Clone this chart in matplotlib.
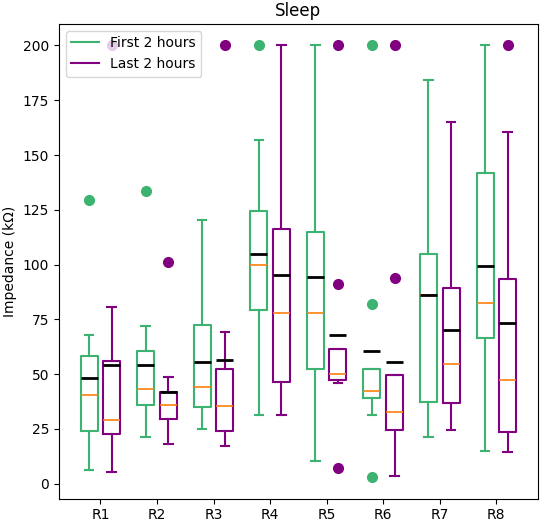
import matplotlib
matplotlib.use("Agg")
import matplotlib.pyplot as plt
from matplotlib.lines import Line2D
import numpy as np

# channels
labels = ["R1", "R2", "R3", "R4", "R5", "R6", "R7", "R8"]

# First 2 hours
first_q1 = [24.0, 35.8, 34.9, 79.3, 52.4, 38.9, 37.5, 66.4]
first_med = [40.7, 43.3, 44.2, 99.9, 77.8, 42.1, 86.0, 82.3]
first_q3 = [58.5, 60.4, 72.6, 124.5, 114.9, 52.4, 104.6, 141.7]
first_lo = [6.4, 21.4, 25.1, 31.3, 10.2, 31.3, 21.5, 14.9]
first_hi = [68.0, 72.1, 120.4, 157.0, 200.0, 52.4, 184.1, 200.0]
first_mean = [48.3, 54.4, 55.6, 104.8, 94.3, 60.4, 86.0, 99.3]
first_fliers = [[129.5], [133.8], [], [200.0], [], [200.0, 82.0, 3.0], [], []]

# Last 2 hours
last_q1 = [22.6, 29.5, 24.0, 46.6, 47.2, 24.4, 37.0, 23.5]
last_med = [29.3, 35.7, 35.4, 78.0, 50.1, 32.6, 54.7, 47.5]
last_q3 = [56.2, 41.8, 52.4, 116.3, 61.4, 49.7, 89.3, 93.4]
last_lo = [5.5, 17.9, 17.0, 31.3, 45.9, 3.5, 24.6, 14.4]
last_hi = [80.8, 48.6, 69.4, 200.0, 61.4, 49.7, 165.2, 160.5]
last_mean = [54.1, 41.9, 56.3, 95.4, 67.7, 55.6, 70.3, 73.5]
last_fliers = [[200.0], [101.1], [200.0], [], [200.0, 91.0, 7.4], [200.0, 93.8], [], [200.0]]

green = "mediumseagreen"
purple = "purple"


def make_stats(q1, med, q3, lo, hi, mean, fliers):
    stats = []
    for i in range(len(q1)):
        stats.append(dict(q1=q1[i], med=med[i], q3=q3[i], whislo=lo[i],
                          whishi=hi[i], mean=mean[i], fliers=fliers[i]))
    return stats


def draw(ax, stats, pos, color):
    ax.bxp(stats, positions=pos, widths=0.3, showmeans=True, meanline=True,
           manage_ticks=False,
           boxprops=dict(color=color, linewidth=1.5),
           whiskerprops=dict(color=color, linewidth=1.5),
           capprops=dict(color=color, linewidth=1.5),
           medianprops=dict(color="C1", linewidth=1.2),
           meanprops=dict(color="black", linewidth=2, linestyle="-"),
           flierprops=dict(marker="o", markerfacecolor=color,
                           markeredgecolor=color, markersize=7))


fig, ax = plt.subplots(figsize=(5.5, 5.3), dpi=100)
x = np.arange(1, len(labels) + 1)

draw(ax, make_stats(first_q1, first_med, first_q3, first_lo, first_hi,
                    first_mean, first_fliers), x - 0.2, green)
draw(ax, make_stats(last_q1, last_med, last_q3, last_lo, last_hi,
                    last_mean, last_fliers), x + 0.2, purple)

ax.set_xticks(x)
ax.set_xticklabels(labels)
ax.set_ylabel("Impedance (kΩ)")
ax.set_title("Sleep")

handles = [Line2D([0], [0], color=green, linewidth=1.5),
           Line2D([0], [0], color=purple, linewidth=1.5)]
ax.legend(handles, ["First 2 hours", "Last 2 hours"], loc="upper left")

fig.subplots_adjust(left=0.107, right=0.978, top=0.955, bottom=0.059)
fig.savefig("out.png")
